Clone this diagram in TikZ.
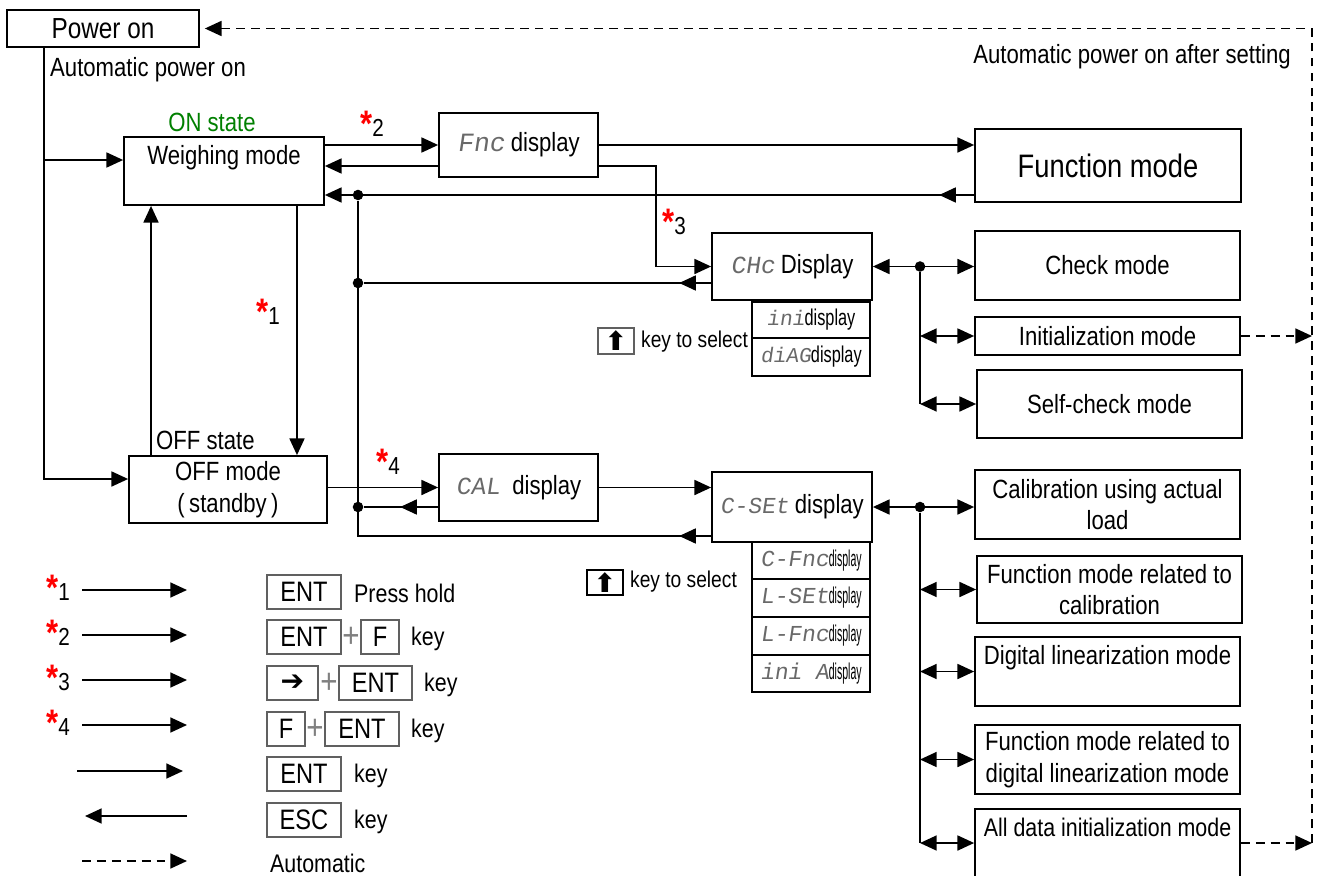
\documentclass[tikz,border=0pt]{standalone}
\usepackage{fontspec}
\setmainfont{Liberation Sans}[FakeStretch=0.84]
\newfontfamily\segfont{Liberation Mono}[FakeSlant=0.15]
\newfontfamily\symfont{DejaVu Sans}
\usepackage{graphicx}
\usetikzlibrary{positioning,arrows.meta,calc}
\definecolor{onstate}{RGB}{0,128,0}
\definecolor{segray}{RGB}{105,105,105}
\newcommand{\seg}[2][14]{{\segfont\fontsize{#1}{#1}\selectfont\color{segray}#2}}
\newcommand{\subdisp}[3][12]{\seg[#1]{#2}\scalebox{#3}[1]{\fontsize{13}{13}\selectfont display}}
\newcommand{\stepno}[1]{{\fontsize{21}{21}\selectfont\bfseries\color{red}*}{\fontsize{14}{14}\selectfont #1}}

\begin{document}
\begin{tikzpicture}[x=0.02cm,y=-0.02cm,font=\fontsize{15}{18}\selectfont,
  box/.style={draw,line width=1pt,rectangle,inner sep=2pt,align=center},
  subbox/.style={draw,line width=1pt,rectangle,inner sep=0pt,minimum width=2.36cm},
  keybox/.style={draw=gray!75!black,line width=1pt,rectangle,inner sep=0pt,
    minimum height=0.68cm,font=\fontsize{16}{16}\selectfont},
  line/.style={line width=1.1pt},
  arr/.style={line,-{Triangle[length=9.5pt,width=8.5pt]}},
  darr/.style={line,{Triangle[length=9.5pt,width=8.5pt]}-{Triangle[length=9.5pt,width=8.5pt]}},
  dasharr/.style={arr,dash pattern=on 5pt off 3.5pt},
  dot/.style={circle,fill,inner sep=0pt,minimum size=6pt}]
\useasboundingbox (0,0) rectangle (1317,875);

% left part
\node[box,minimum width=3.84cm,minimum height=0.74cm,font=\fontsize{16.5}{18}\selectfont] (pwr) at (103,28.5) {Power on};
\node[anchor=west] (autoon) at (44,70) {Automatic power on};
\node[box,minimum width=4cm,minimum height=1.36cm,
      label={[anchor=north,yshift=-2pt]north:Weighing mode}] (weigh) at (224,171) {};
\node[text=onstate] (onlbl) at (212,122) {ON state};
\node[box,minimum width=3.96cm,minimum height=1.34cm] (off) at (228,489.5) {OFF mode\\(\,standby\,)};
\node[anchor=west] (offlbl) at (150,440) {OFF state};

% display boxes
\node[box,minimum width=3.18cm,minimum height=1.28cm] (fnc) at (518.5,145) {\seg[15]{Fnc} display};
\node[box,minimum width=5.32cm,minimum height=1.46cm,font=\fontsize{18.5}{20}\selectfont] (fmode) at (1108,165.5) {Function mode};
\node[box,minimum width=3.2cm,minimum height=1.34cm] (chc) at (792,266.5) {\seg{CHc} Display};
\node[subbox,minimum height=0.72cm] (sini) at (811,320) {\subdisp{ini}{0.85}};
\node[subbox,minimum height=0.76cm] (sdiag) at (811,357) {\subdisp{diAG}{0.85}};
\node[box,minimum width=3.18cm,minimum height=1.34cm] (cal) at (518.5,487.5) {\seg{CAL}\ \ display};
\node[box,minimum width=3.2cm,minimum height=1.4cm] (cset) at (792,507) {\seg[13]{C-SEt} display};
\node[subbox,minimum height=0.75cm] (scfnc) at (811,560.5) {\subdisp[13]{C-Fnc}{0.55}};
\node[subbox,minimum height=0.76cm] (slset) at (811,598) {\subdisp[13]{L-SEt}{0.55}};
\node[subbox,minimum height=0.76cm] (slfnc) at (811,636) {\subdisp[13]{L-Fnc}{0.55}};
\node[subbox,minimum height=0.75cm] (sinia) at (811,673.5) {\subdisp[13]{ini A}{0.55}};

% key to select
\node[draw=gray!75!black,line width=1pt,minimum width=0.72cm,minimum height=0.52cm,inner sep=0pt] (upkey1) at (616,341) {\symfont\bfseries\fontsize{15}{15}\selectfont ⬆};
\node[anchor=west,font=\fontsize{13}{15}\selectfont] (sel1) at (635,342) {key to select};
\node[draw=black,line width=1pt,minimum width=0.72cm,minimum height=0.5cm,inner sep=0pt] (upkey2) at (605,582.5) {\symfont\bfseries\fontsize{15}{15}\selectfont ⬆};
\node[anchor=west,font=\fontsize{13}{15}\selectfont] (sel2) at (624,582) {key to select};

% mode boxes
\node[box,minimum width=5.3cm,minimum height=1.38cm] (check) at (1107.5,265.5) {Check mode};
\node[box,minimum width=5.3cm,minimum height=0.76cm] (init) at (1107.5,336) {Initialization mode};
\node[box,minimum width=5.3cm,minimum height=1.36cm] (selfchk) at (1109.5,404) {Self-check mode};
\node[box,minimum width=5.3cm,minimum height=1.38cm] (calib) at (1107.5,504.5) {Calibration using actual\\load};
\node[box,minimum width=5.3cm,minimum height=1.34cm] (fmcal) at (1109.5,589.5) {Function mode related to\\calibration};
\node[box,minimum width=5.3cm,minimum height=1.38cm,
      label={[anchor=north,yshift=-2pt]north:Digital linearization mode}] (dlin) at (1107.5,671.5) {};
\node[box,minimum width=5.3cm,minimum height=1.38cm] (fmdig) at (1107.5,759.5) {Function mode related to\\digital linearization mode};
\node[box,minimum width=5.3cm,minimum height=1.36cm,
      label={[anchor=north,yshift=-2pt,font=\fontsize{14.5}{17}\selectfont]north:All data initialization mode}] (alldata) at (1107.5,843) {};
\node[anchor=east] (autoset) at (1297,57) {Automatic power on after setting};

% left connectors
\coordinate (lbus) at (44,0);
\coordinate (vbus) at (358,0);
\coordinate (rx) at (920,0);
\coordinate (dbus) at (1312,0);
\coordinate (offin) at ([yshift=0.21cm]off.west);
\coordinate (weighin) at ([yshift=0.22cm]weigh.west);
\draw[arr] (pwr.south -| lbus) |- (offin);
\draw[arr] (weighin -| lbus) -- (weighin);
\coordinate (offup) at ([xshift=-1.54cm]off.north);
\draw[arr] (offup) -- (offup |- weigh.south);
\coordinate (wdown) at ([xshift=1.46cm]weigh.south);
\draw[arr] (wdown) -- (wdown |- off.north);
\node (s1) at (268,312) {\stepno{1}};

\draw[arr] (weigh.east |- fnc.west) -- (fnc.west);
\node (s2) at (372,124) {\stepno{2}};
\coordinate (fncback) at ([yshift=-0.42cm]fnc.west);
\draw[arr] (fncback) -- (fncback -| weigh.east);
\draw[arr] (fnc.east) -- (fnc.east -| fmode.west);
\coordinate (fmback) at ([yshift=-0.59cm]fmode.west);
\draw[arr] (fmback) -- (fmback -| weigh.east);
\draw[arr] (fmback) -- ++(-0.7cm,0);
\node[dot] (j1) at (fmback -| vbus) {};
\coordinate (fnc3) at ([yshift=-0.42cm]fnc.east);
\draw[arr] (fnc3) -- ++(1.14cm,0) |- (chc.west);
\node (s3) at (674,222) {\stepno{3}};
\coordinate (chback) at ([yshift=-0.33cm]chc.west);
\node[dot] (j2) at (chback -| vbus) {};
\draw[line] (chback) -- (j2);
\draw[arr] (chback) -- ++(-0.64cm,0);

\draw[arr] (off.east |- cal.west) -- (cal.west);
\node (s4) at (388,462) {\stepno{4}};
\coordinate (calback) at ([yshift=-0.39cm]cal.west);
\node[dot] (j3) at (calback -| vbus) {};
\draw[line] (calback) -- (j3);
\draw[arr] (calback) -- ++(-0.76cm,0);
\draw[arr] (cal.east) -- (cal.east -| cset.west);
\coordinate (csback) at ([yshift=-0.58cm]cset.west);
\draw[line] (csback) -| (j1);
\draw[arr] (csback) -- ++(-0.64cm,0);

% right connectors
\draw[darr] (chc.east) -- (chc.east -| check.west);
\node[dot] (j4) at (chc.east -| rx) {};
\draw[line] (j4) -- (selfchk.west -| rx);
\draw[darr] (init.west -| rx) -- (init.west);
\draw[darr] (selfchk.west -| rx) -- (selfchk.west);
\draw[darr] (cset.east) -- (cset.east -| calib.west);
\node[dot] (j5) at (cset.east -| rx) {};
\draw[line] (j5) -- (alldata.west -| rx);
\foreach \m in {fmcal,dlin,fmdig,alldata}
  \draw[darr] (\m.west -| rx) -- (\m.west);
\draw[dasharr] (init.east) -- (init.east -| dbus);
\draw[dasharr] (alldata.east) -- (alldata.east -| dbus);
\draw[dasharr] (alldata.east -| dbus) |- ([xshift=0.1cm]pwr.east);

% legend
\foreach \n/\y in {1/590,2/635,3/680,4/725}{
  \node (ls\n) at (58,\y-2) {\stepno{\n}};
  \coordinate (la\n) at (82,\y);
  \coordinate (lb\n) at (187,\y);
  \draw[arr] (la\n) -- (lb\n);
}
\coordinate (la5) at (77,771);  \coordinate (lb5) at (183,771);
\draw[arr] (la5) -- (lb5);
\coordinate (la6) at (187,816); \coordinate (lb6) at (85,816);
\draw[arr] (la6) -- (lb6);
\coordinate (la7) at (82,861);  \coordinate (lb7) at (187,861);
\draw[dasharr] (la7) -- (lb7);

\node[keybox,minimum width=1.48cm] (ent1) at (304,592) {ENT};
\node[anchor=west,font=\fontsize{14.5}{16}\selectfont] (hold) at (348,593) {Press hold};
\node[keybox,minimum width=1.48cm] (ent2) at (304,637) {ENT};
\node[text=gray,font=\fontsize{20}{20}\selectfont] (plus2) at (351,637) {+};
\node[keybox,minimum width=0.76cm] (fk2) at (380,637) {F};
\node[anchor=west,font=\fontsize{14.5}{16}\selectfont] (key2) at (405,639) {key};
\node[keybox,minimum width=1.02cm] (rk3) at (292.5,683) {\symfont\bfseries ➔};
\node[text=gray,font=\fontsize{20}{20}\selectfont] (plus3) at (329,683) {+};
\node[keybox,minimum width=1.46cm] (ent3) at (375.5,683) {ENT};
\node[anchor=west,font=\fontsize{14.5}{16}\selectfont] (key3) at (418,685) {key};
\node[keybox,minimum width=0.76cm] (fk4) at (286,729) {F};
\node[text=gray,font=\fontsize{20}{20}\selectfont] (plus4) at (315,729) {+};
\node[keybox,minimum width=1.48cm] (ent4) at (362,729) {ENT};
\node[anchor=west,font=\fontsize{14.5}{16}\selectfont] (key4) at (405,731) {key};
\node[keybox,minimum width=1.48cm] (ent5) at (304,774) {ENT};
\node[anchor=west,font=\fontsize{14.5}{16}\selectfont] (key5) at (348,776) {key};
\node[keybox,minimum width=1.48cm] (esc6) at (304,820) {ESC};
\node[anchor=west,font=\fontsize{14.5}{16}\selectfont] (key6) at (348,822) {key};
\node[anchor=west,font=\fontsize{14.5}{16}\selectfont] (autolg) at (264,863) {Automatic};
\end{tikzpicture}
\end{document}
